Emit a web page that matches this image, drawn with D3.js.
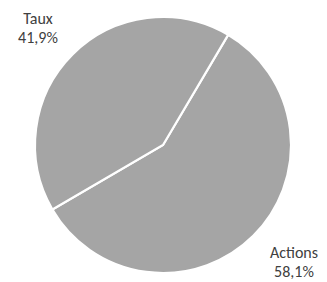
<!DOCTYPE html>
<html>
<head>
<meta charset="utf-8">
<script src="https://cdn.jsdelivr.net/npm/d3@7"></script>
<style>
  body { margin: 0; background: #fff; }
  svg { display: block; font-family: Calibri, Carlito, "Open Sans", sans-serif; }
</style>
</head>
<body>
<div class="chart"></div>
<script>
// values
const CATEGORIES = ["Actions", "Taux"];
const VALUES = [58.1, 41.9];
const LABEL_POS = [[294, 258], [38, 24]]; // label anchors (text centre, first baseline)

const WIDTH = 327, HEIGHT = 282;
const CX = 163, CY = 145, R = 128;
const START = 30.6 * Math.PI / 180;

const svg = d3.select(".chart").append("svg")
  .attr("width", WIDTH)
  .attr("height", HEIGHT);

const data = CATEGORIES.map((c, i) => ({ name: c, value: VALUES[i] }));

const pie = d3.pie()
  .value(d => d.value)
  .sort(null)
  .startAngle(START)
  .endAngle(START + 2 * Math.PI);

const arc = d3.arc().innerRadius(0).outerRadius(R);

const g = svg.append("g").attr("transform", `translate(${CX},${CY})`);

g.selectAll("path")
  .data(pie(data))
  .join("path")
  .attr("d", arc)
  .attr("fill", "#a5a5a5")
  .attr("stroke", "#fff")
  .attr("stroke-width", 2.2)
  .attr("stroke-linejoin", "miter");

const fmt = v => v.toFixed(1).replace(".", ",") + "%";

const labels = svg.selectAll("text.lbl")
  .data(data)
  .join("text")
  .attr("class", "lbl")
  .attr("text-anchor", "middle")
  .attr("fill", "#404040")
  .attr("font-size", 16);

labels.append("tspan")
  .attr("x", (d, i) => LABEL_POS[i][0])
  .attr("y", (d, i) => LABEL_POS[i][1])
  .text(d => d.name);

labels.append("tspan")
  .attr("x", (d, i) => LABEL_POS[i][0])
  .attr("y", (d, i) => LABEL_POS[i][1] + 19)
  .text(d => fmt(d.value));
</script>
</body>
</html>
